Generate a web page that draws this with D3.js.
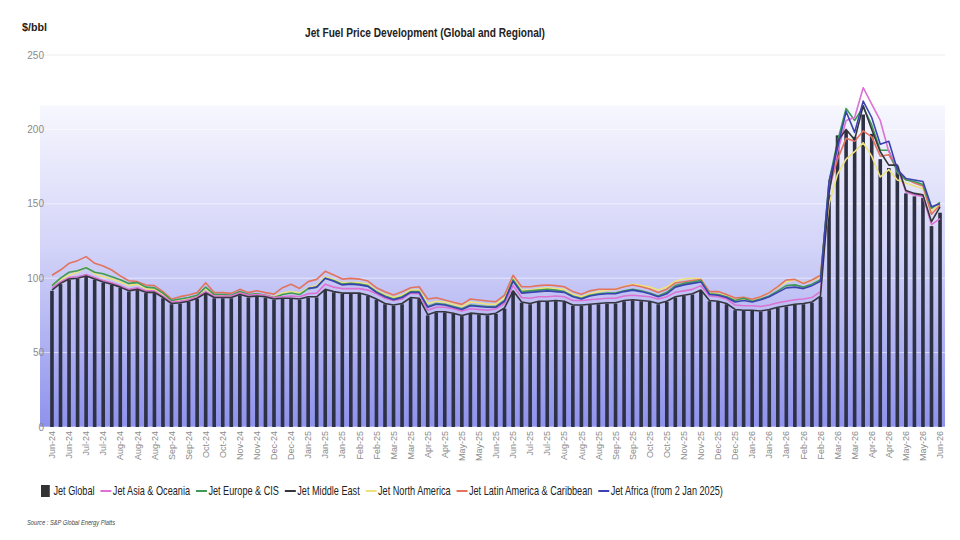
<!DOCTYPE html>
<html><head><meta charset="utf-8">
<script src="https://cdn.jsdelivr.net/npm/d3@7"></script>
<style>
body{margin:0;background:#fff;}
text{font-family:"Liberation Sans",Arial,sans-serif;}
</style></head><body>
<script>
const tickLabels = ["Jun-24","Jun-24","Jul-24","Jul-24","Aug-24","Aug-24","Aug-24","Sep-24","Sep-24","Oct-24","Oct-24","Nov-24","Nov-24","Dec-24","Dec-24","Jan-25","Jan-25","Jan-25","Feb-25","Feb-25","Mar-25","Mar-25","Apr-25","Apr-25","May-25","May-25","Jun-25","Jun-25","Jul-25","Jul-25","Aug-25","Aug-25","Aug-25","Sep-25","Sep-25","Oct-25","Oct-25","Nov-25","Nov-25","Dec-25","Dec-25","Jan-26","Jan-26","Jan-26","Feb-26","Feb-26","Mar-26","Mar-26","Apr-26","Apr-26","May-26","May-26","Jun-26"];
const yTicks = [0,50,100,150,200,250];

const jetGlobal = [91.5,96,99,99.5,101,99,97,95.5,93.5,91, 92,90,90,86.5,82.5,83,84,86,89.5,86.5, 86.5,86.5,88.5,87,87.5,87,85.5,86,86,85.5,
 87,87,92,90.5,89.5,89.5,89.5,88,85.5,82.5, 81.5,82.5,86.5,86,75,77,77,76,74.5,76, 75.5,75,76,79.5,91,83.5,82.5,84,84,84.5,
 84,81.5,81.5,82,82.5,83,83,84.5,85,84.5, 84,82.5,84,87,88,89,91.5,84.5,84,82.5, 78.5,78,78,77.5,78.5,80,81,82,82.5,83.5,
 87.5,156,196,199,195,210,197,180,174,175,157,155,154,135,144];
const jetAsia = [93.5,97.5,100.5,101,102.5,100.5,98.5,97,95,92.5, 93.5,91.5,91.5,88,84,84.5,85.5,87.5,91,88, 88,88,90,88.5,89,88.5,87,87.5,88,87.5,
 89.5,90,96,94,93,93,93,92,89.5,86.5, 85,86,90,89.5,78.5,80.5,80.5,79.5,78,79.5, 79,78.5,79.5,83,95,87,86.5,87.5,87.5,88,
 87.5,85,85,85.5,86,86.5,86.5,88,88.5,88, 87.5,86,87.5,90.5,91.5,92.5,95,88,87.5,86, 82,81.5,81.5,81,82,83.5,84.5,85.5,86,87,
 91,159,185,206,208,228,217,206,185,175,158,156,155,136,140];
const jetEurope = [95,100,104,105,107,104,103,101,99,96.5, 97,94,93.5,90,85,86,87,88.5,94,89, 89,88.5,91,89,89.5,88.5,87,89,90,89,
 93,94,100,98.5,96,96.5,96,95,91,88, 86,87.5,91,91,81,83,82.5,81,79.5,82, 81.5,81,81,85,99,91,91.5,92,92.5,92,
 91,88,86.5,88.5,89.5,90,90,91.5,92.5,91.5, 90,88,90.5,95,96.5,97.5,98.5,89.5,89,87.5, 85,86.5,84.5,86,88,91.5,95,95.5,94,96,
 99,165,192,214,206,215,203,186,186,171,166,165,163,147,151];
const jetMiddleEast = [92,96.5,99.5,100,101.5,99.5,97.5,96,94,91.5, 92.5,90.5,90.5,87,83,83.5,84.5,86.5,90,87, 87,87,89,87.5,88,87.5,86,86.5,86.5,86,
 87.5,87.5,92.5,91,90,90,90,88.5,86,83, 82,83,87,86.5,75.5,77.5,77.5,76.5,75,76.5, 76,75.5,76.5,80,91.5,84,83,84.5,84.5,85,
 84.5,82,82,82.5,83,83.5,83.5,85,85.5,85, 84.5,83,84.5,87.5,88.5,89.5,92,85,84.5,83, 79,78.5,78.5,78,79,80.5,81.5,82.5,83,84,
 88,157,192,200,193,216,200,185,176,176,159,157,156,138,148];
const jetNorthAmerica = [95.5,99,102,104,107.5,103,101,99.5,97.5,95, 96,93,92.5,89,84.5,85.5,86.5,88,93,88.5, 88.5,88,90.5,88.5,89,88.5,87.5,90,91,90,
 93.5,95,101,99,97,97,97,96,91.5,89, 87,88.5,92,92,83,84.5,84,82.5,81,84, 83.5,82.5,82.5,87,100,92,92,93,93.5,93,
 92.5,89,87.5,89.5,91,92,92.5,94.5,96,95, 94,92,94,98,99.5,100,99.5,90,89.5,88, 85.5,86,85,87.5,90.5,94,97.5,99,97,98.5,
 101,150,170,180,185,191,182,168,173,166,164,162,160,145,150];
const jetLatAm = [102,105.5,110,111.8,114.5,110,108.2,105.5,101.5,98.3, 97.7,95.4,95,91,86,87.6,88.7,90.3,97,90.3, 90.3,89.8,92.5,90.3,91.6,90.3,89.3,93.6,95.9,93.1,
 97.7,99.2,104.6,102.2,99.4,99.9,99.4,98.1,93.6,90.9, 88.7,90.9,93.6,94.3,86,86.9,85.4,83.8,82.4,86, 85.4,84.7,84.2,88.7,102,94.3,94.3,95,95.4,95,
 94.3,91,89.2,91.5,92.6,92.6,92.6,94.3,95.4,94.3, 92.8,90.4,92.6,96.8,97.6,98.4,99.1,91,91,89, 86.7,87.1,85.8,87.6,90.3,94.3,98.8,99.2,96.5,98.8,
 102,160,180,194,192,199,195,182,183,173,167,164,162,143,149];
const jetAfrica = [null,null,null,null,null,null,null,null,null,null, null,null,null,null,null,null,null,null,null,null, null,null,null,null,null,null,null,null,null,null,
 93,94,100,98,95.5,96,95.5,94.5,90.5,87.5, 85.5,87,90.5,90.5,80.5,82.5,82,80.5,79,81.5, 81,80.5,80.5,84.5,98,90,90.5,91,91.5,91,
 90.5,87.5,86,88,89,89.5,89.5,91,92,91, 89.5,87.5,89.5,94,95.5,96.5,97.5,89,88.5,87, 84,85,84,85.5,87.5,90.5,93.5,94,93,95,
 98,165,188,212,198,219,208,190,192,173,167,166,165,148,150];

const lineSeries = [
  {name:"Jet Asia & Oceania", values: jetAsia, color:"#dc72d2"},
  {name:"Jet Europe & CIS", values: jetEurope, color:"#3f9a55"},
  {name:"Jet Middle East", values: jetMiddleEast, color:"#35353d"},
  {name:"Jet North America", values: jetNorthAmerica, color:"#eee27c"},
  {name:"Jet Latin America & Caribbean", values: jetLatAm, color:"#e2735f"},
  {name:"Jet Africa (from 2 Jan 2025)", values: jetAfrica, color:"#3a43b0"}
];
const drawOrder = [3,4,1,0,2,5];

const W = 960, H = 540;
const svg = d3.select("body").append("svg").attr("width", W).attr("height", H);

const idx = d3.range(jetGlobal.length);
const x = d3.scaleBand().domain(idx).range([47.7, 944.3]).padding(0);
const y = d3.scaleLinear().domain([0, 250]).range([427, 55]);
const cx = i => x(i) + x.bandwidth() / 2;

const defs = svg.append("defs");
const grad = defs.append("linearGradient").attr("id", "bg").attr("x1", 0).attr("y1", 0).attr("x2", 0).attr("y2", 1);
grad.append("stop").attr("offset", "0%").attr("stop-color", "#f7f7fe");
grad.append("stop").attr("offset", "45%").attr("stop-color", "#d2d3f8");
grad.append("stop").attr("offset", "100%").attr("stop-color", "#8e92ec");

svg.append("rect").attr("x", 40).attr("y", y(216)).attr("width", 905).attr("height", y(0) - y(216)).attr("fill", "url(#bg)");

// grid
svg.append("g").selectAll("line").data(yTicks).join("line")
  .attr("x1", 40).attr("x2", 945).attr("y1", d => y(d)).attr("y2", d => y(d))
  .attr("stroke", d => d > 216 ? "#ececf0" : "rgba(255,255,255,0.55)").attr("stroke-width", 1);

// y labels
svg.append("g").selectAll("text").data(yTicks).join("text")
  .attr("x", 44).attr("y", d => y(d)).attr("dy", "0.35em").attr("text-anchor", "end")
  .attr("fill", "#8a8a8a").style("font-size", "10px").text(d => d);

// bars
svg.append("g").selectAll("rect").data(jetGlobal).join("rect")
  .attr("x", (d, i) => cx(i) - 1.8).attr("width", 3.6)
  .attr("y", d => y(d)).attr("height", d => y(0) - y(d))
  .attr("fill", "#2e3044");

// lines
const line = d3.line().defined(d => d != null).x((d, i) => cx(i)).y(d => y(d));
const lg = svg.append("g");
drawOrder.forEach(k => {
  const s = lineSeries[k];
  lg.append("path").attr("d", line(s.values)).attr("fill", "none")
    .attr("stroke", s.color).attr("stroke-width", 1.6).attr("stroke-linejoin", "round");
});

// x labels
svg.append("g").selectAll("text").data(tickLabels).join("text")
  .attr("transform", (d, j) => `translate(${cx(j * 2)},431) rotate(-90)`)
  .attr("dy", "0.35em").attr("text-anchor", "end").attr("fill", "#8a8a8a")
  .style("font-size", "9px").text(d => d);

// title
svg.append("text").attr("x", 305).attr("y", 37)
  .attr("textLength", 240).attr("lengthAdjust", "spacingAndGlyphs")
  .style("font-size", "12.5px").style("font-weight", "bold").attr("fill", "#222")
  .text("Jet Fuel Price Development (Global and Regional)");
svg.append("text").attr("x", 22).attr("y", 31)
  .attr("textLength", 25).attr("lengthAdjust", "spacingAndGlyphs")
  .style("font-size", "11.5px").style("font-weight", "bold").attr("fill", "#222").text("$/bbl");

// legend (built at natural width, then compressed horizontally)
const legOuter = svg.append("g");
const leg = legOuter.append("g");
let lx = 0; const ly = 491;
leg.append("rect").attr("x", lx).attr("y", ly - 6).attr("width", 12).attr("height", 12).attr("fill", "#333");
let t = leg.append("text").attr("x", lx + 17).attr("y", ly).attr("dy", "0.35em").style("font-size", "12.5px").attr("fill", "#222").text("Jet Global");
lx = lx + 17 + t.node().getComputedTextLength() + 8;
lineSeries.forEach(s => {
  leg.append("line").attr("x1", lx).attr("x2", lx + 15).attr("y1", ly).attr("y2", ly).attr("stroke", s.color).attr("stroke-width", 2);
  const tt = leg.append("text").attr("x", lx + 17).attr("y", ly).attr("dy", "0.35em").style("font-size", "12.5px").attr("fill", "#222").text(s.name);
  lx = lx + 17 + tt.node().getComputedTextLength() + 8;
});
const legW = lx - 8;
const sx = (723 - 41) / legW;
leg.attr("transform", `translate(41,0) scale(${sx},1)`);

svg.append("text").attr("x", 27).attr("y", 525)
  .attr("textLength", 88).attr("lengthAdjust", "spacingAndGlyphs")
  .style("font-size", "7px").style("font-style", "italic")
  .attr("fill", "#444").text("Source : S&P Global Energy Platts");
</script>
</body></html>
